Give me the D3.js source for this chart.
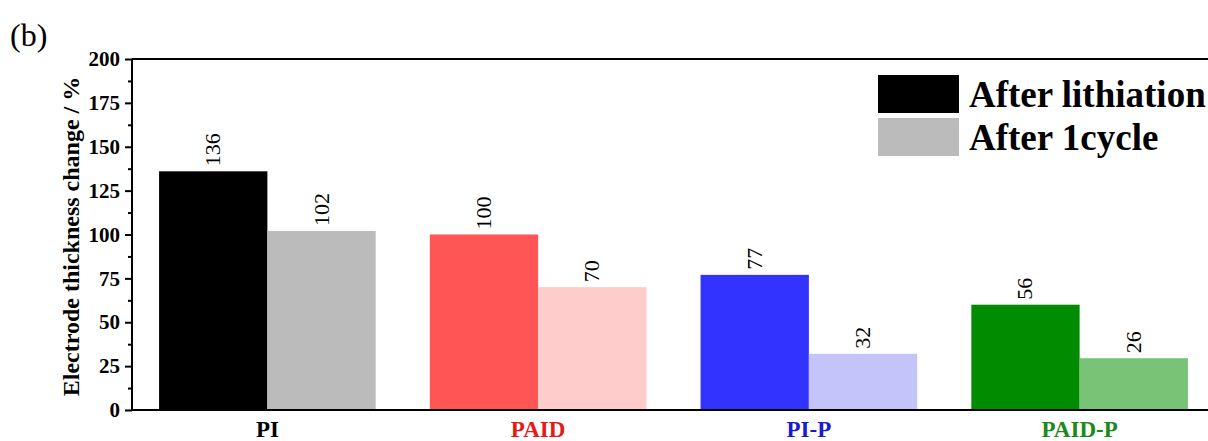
<!DOCTYPE html>
<html>
<head>
<meta charset="utf-8">
<script src="https://cdn.jsdelivr.net/npm/d3@7"></script>
<style>
  html, body { margin: 0; padding: 0; background: #fff; overflow: hidden; }
  svg { display: block; }
</style>
</head>
<body>
<svg id="chart" width="1208" height="441"></svg>
<script>
// ---- data ----
const categories = ["PI", "PAID", "PI-P", "PAID-P"];
const seriesNames = ["After lithiation", "After 1cycle"];
const lithiationValues = [136, 100, 77, 60];
const cycleValues = [102, 70, 32, 29.5];
const lithiationLabels = ["136", "100", "77", "56"];
const cycleLabels = ["102", "70", "32", "26"];
const yTicks = [0, 25, 50, 75, 100, 125, 150, 175, 200];
const yMinorTicks = [12.5, 37.5, 62.5, 87.5, 112.5, 137.5, 162.5, 187.5];
const darkColors = ["#000000", "#ff5555", "#3333ff", "#008c00"];
const lightColors = ["#bbbbbb", "#ffcccc", "#c4c4fa", "#77c477"];
const categoryColors = ["#000000", "#e31a1a", "#1a1acc", "#1a8a1a"];
const legendColors = ["#000000", "#bbbbbb"];

(function () {
const svg = d3.select("#chart");
const serif = "Liberation Serif, serif";

const pL = 132, pR = 1215, pT = 59, pB = 410;

const x = d3.scaleBand().domain(categories).range([pL, pR])
  .paddingInner(0.2).paddingOuter(0.1);
const sub = d3.scaleBand().domain([0, 1]).range([0, x.bandwidth()]);
const y = d3.scaleLinear().domain([0, 200]).range([pB, pT]);

const rows = categories.map((c, i) => ({
  cat: c, i,
  vals: [lithiationValues[i], cycleValues[i]],
  labels: [lithiationLabels[i], cycleLabels[i]]
}));

// bars
const g = svg.append("g");
rows.forEach(r => {
  [0, 1].forEach(k => {
    g.append("rect")
      .attr("x", x(r.cat) + sub(k))
      .attr("y", y(r.vals[k]))
      .attr("width", sub.bandwidth())
      .attr("height", y(0) - y(r.vals[k]))
      .attr("fill", k === 0 ? darkColors[r.i] : lightColors[r.i]);
    const cx = x(r.cat) + sub(k) + sub.bandwidth() / 2;
    const ty = y(r.vals[k]) - 5;
    g.append("text")
      .attr("transform", `translate(${cx + 7},${ty}) rotate(-90)`)
      .attr("font-family", serif)
      .attr("font-size", 22)
      .attr("fill", "#000")
      .text(r.labels[k]);
  });
});

// top frame line
svg.append("line").attr("x1", pL).attr("x2", 1208).attr("y1", pT).attr("y2", pT)
  .attr("stroke", "#000").attr("stroke-width", 2);
// bottom axis line
svg.append("line").attr("x1", pL - 1).attr("x2", 1208).attr("y1", pB).attr("y2", pB)
  .attr("stroke", "#000").attr("stroke-width", 2);

// y axis
const yAxis = d3.axisLeft(y).tickValues(yTicks).tickSize(7).tickPadding(5).tickFormat(d3.format("d"));
const ya = svg.append("g").attr("transform", `translate(${pL},0)`).call(yAxis);
ya.select(".domain").attr("stroke-width", 2).attr("d", `M0,${pT}V${pB}`);
ya.selectAll(".tick line").attr("stroke-width", 2);
ya.selectAll(".tick text").attr("font-family", serif).attr("font-weight", "bold")
  .attr("font-size", 21).attr("fill", "#000");
const yMinor = d3.axisLeft(y).tickValues(yMinorTicks).tickSize(4).tickFormat("");
const ym = svg.append("g").attr("transform", `translate(${pL},0)`).call(yMinor);
ym.select(".domain").remove();
ym.selectAll(".tick line").attr("stroke-width", 2);

// y title
svg.append("text")
  .attr("transform", `translate(79,${(pT + pB) / 2 + 2}) rotate(-90)`)
  .attr("text-anchor", "middle")
  .attr("font-family", serif).attr("font-weight", "bold").attr("font-size", 24)
  .text("Electrode thickness change / %");

// x labels
categories.forEach((c, i) => {
  svg.append("text")
    .attr("x", x(c) + x.bandwidth() / 2)
    .attr("y", 437)
    .attr("text-anchor", "middle")
    .attr("font-family", serif).attr("font-weight", "bold").attr("font-size", 23)
    .attr("fill", categoryColors[i])
    .text(c);
});

// panel label
svg.append("text").attr("x", 10).attr("y", 46)
  .attr("font-family", serif).attr("font-size", 32).text("(b)");

// legend
seriesNames.forEach((s, i) => {
  const ly = 75 + i * 43;
  svg.append("rect").attr("x", 878).attr("y", ly).attr("width", 81).attr("height", 38)
    .attr("fill", legendColors[i]);
  svg.append("text").attr("x", 969).attr("y", ly + 32)
    .attr("font-family", serif).attr("font-weight", "bold").attr("font-size", 37)
    .attr("fill", "#000").text(s);
});
})();
</script>
</body>
</html>
